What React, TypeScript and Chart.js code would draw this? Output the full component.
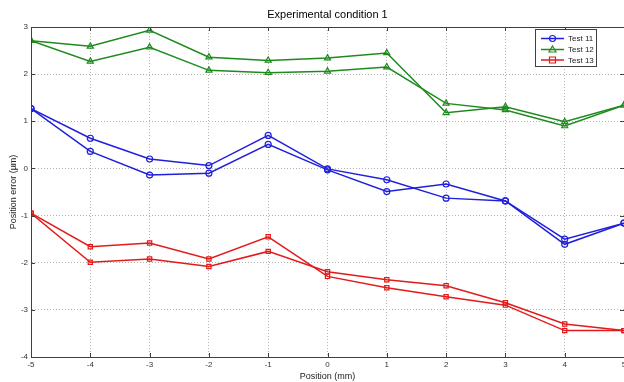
import React, { useEffect, useRef } from "react";
import { Chart, registerables } from "chart.js";

Chart.register(...registerables);

const chartTitle = "Experimental condition 1";
const positions = [-5, -4, -3, -2, -1, 0, 1, 2, 3, 4, 5];
const xTickValues = [-5, -4, -3, -2, -1, 0, 1, 2, 3, 4, 5];
const yTickValues = [-4, -3, -2, -1, 0, 1, 2, 3];

const test11Forward = [1.27, 0.64, 0.2, 0.06, 0.7, -0.01, -0.24, -0.63, -0.69, -1.5, -1.16];
const test11Backward = [1.27, 0.36, -0.14, -0.1, 0.51, -0.03, -0.49, -0.33, -0.69, -1.61, -1.16];
const test12Forward = [2.71, 2.59, 2.93, 2.36, 2.29, 2.34, 2.45, 1.18, 1.31, 0.99, 1.34];
const test12Backward = [2.71, 2.27, 2.57, 2.08, 2.03, 2.06, 2.15, 1.38, 1.24, 0.9, 1.34];
const test13Forward = [-0.95, -1.66, -1.58, -1.92, -1.45, -2.29, -2.53, -2.72, -2.9, -3.44, -3.44];
const test13Backward = [-0.95, -1.99, -1.92, -2.08, -1.76, -2.19, -2.36, -2.49, -2.85, -3.3, -3.44];

const seriesNames = ["Test 11", "Test 12", "Test 13"];
const BLUE = "#1f1fdc";
const GREEN = "#1e8a1e";
const RED = "#e41a1a";
const FONT = "'Liberation Sans', Arial, Helvetica, sans-serif";

function makeDataset(label: string, values: number[], color: string, style: string, radius: number) {
  return {
    label,
    data: positions.map((x, i) => ({ x, y: values[i] })),
    borderColor: color,
    borderWidth: 1.5,
    pointStyle: style,
    pointRadius: radius,
    pointBorderWidth: 1.2,
    pointBorderColor: color,
    pointBackgroundColor: "rgba(0,0,0,0)",
    tension: 0,
    fill: false,
  };
}

function drawMarker(ctx: CanvasRenderingContext2D, style: string, x: number, y: number, color: string) {
  ctx.save();
  ctx.strokeStyle = color;
  ctx.lineWidth = 1.2;
  ctx.beginPath();
  if (style === "circle") {
    ctx.arc(x, y, 3, 0, Math.PI * 2);
  } else if (style === "triangle") {
    ctx.moveTo(x, y - 3.5);
    ctx.lineTo(x + 3.5, y + 2.5);
    ctx.lineTo(x - 3.5, y + 2.5);
    ctx.closePath();
  } else {
    ctx.rect(x - 3, y - 3, 6, 6);
  }
  ctx.stroke();
  ctx.restore();
}

const boxPlugin = {
  id: "boxAndLegend",
  afterDatasetsDraw(chart: any) {
    const ctx: CanvasRenderingContext2D = chart.ctx;
    const { left, right, top, bottom } = chart.chartArea;
    const xs = chart.scales.x;
    const ys = chart.scales.y;
    ctx.save();
    // title centred over the plot area
    ctx.fillStyle = "#000";
    ctx.font = `11px ${FONT}`;
    ctx.textAlign = "center";
    ctx.textBaseline = "middle";
    ctx.fillText(chartTitle, (left + right) / 2, 14.5);

    ctx.strokeStyle = "#404040";
    ctx.lineWidth = 1;
    ctx.beginPath();
    ctx.rect(left + 0.5, top + 0.5, right - left, bottom - top);
    ctx.stroke();
    // inward ticks
    ctx.beginPath();
    xTickValues.forEach((v) => {
      const px = Math.round(xs.getPixelForValue(v)) + 0.5;
      ctx.moveTo(px, bottom);
      ctx.lineTo(px, bottom - 4);
      ctx.moveTo(px, top);
      ctx.lineTo(px, top + 4);
    });
    yTickValues.forEach((v) => {
      const py = Math.round(ys.getPixelForValue(v)) + 0.5;
      ctx.moveTo(left, py);
      ctx.lineTo(left + 4, py);
      ctx.moveTo(right, py);
      ctx.lineTo(right - 4, py);
    });
    ctx.stroke();

    // legend
    const bx = 535.5, by = 29.5, bw = 61, bh = 37;
    ctx.fillStyle = "#ffffff";
    ctx.fillRect(bx, by, bw, bh);
    ctx.strokeStyle = "#404040";
    ctx.strokeRect(bx, by, bw, bh);
    const colors = [BLUE, GREEN, RED];
    const styles = ["circle", "triangle", "rect"];
    const rows = [38.5, 49.5, 60];
    ctx.font = `8px ${FONT}`;
    ctx.textBaseline = "middle";
    ctx.textAlign = "left";
    seriesNames.forEach((name, i) => {
      const y = rows[i];
      ctx.strokeStyle = colors[i];
      ctx.lineWidth = 1.5;
      ctx.beginPath();
      ctx.moveTo(541, y);
      ctx.lineTo(564, y);
      ctx.stroke();
      drawMarker(ctx, styles[i], 552.5, y, colors[i]);
      ctx.fillStyle = "#222";
      ctx.fillText(name, 568, y + 0.5);
    });
    ctx.restore();
  },
};

export default function App() {
  const ref = useRef<HTMLCanvasElement | null>(null);
  useEffect(() => {
    document.documentElement.style.overflow = "hidden";
    document.body.style.overflow = "hidden";
    document.body.style.margin = "0";
    const canvas = ref.current;
    if (!canvas) return;
    const chart = new Chart(canvas, {
      type: "line",
      data: {
        datasets: [
          makeDataset("Test 11", test11Forward, BLUE, "circle", 3),
          makeDataset("Test 11 (return)", test11Backward, BLUE, "circle", 3),
          makeDataset("Test 12", test12Forward, GREEN, "triangle", 3.5),
          makeDataset("Test 12 (return)", test12Backward, GREEN, "triangle", 3.5),
          makeDataset("Test 13", test13Forward, RED, "rect", 3),
          makeDataset("Test 13 (return)", test13Backward, RED, "rect", 3),
        ] as any,
      },
      options: {
        responsive: false,
        animation: false,
        devicePixelRatio: 1,
        layout: { padding: { left: 0, right: 16, top: 27, bottom: 0 } },
        plugins: {
          legend: { display: false },
          tooltip: { enabled: false },
          title: { display: false },
        },
        scales: {
          x: {
            type: "linear",
            min: -5,
            max: 5,
            afterBuildTicks: (scale: any) => {
              scale.ticks = xTickValues.map((v) => ({ value: v }));
            },
            afterFit: (scale: any) => {
              scale.height = 25;
            },
            ticks: {
              color: "#333",
              font: { family: FONT, size: 8 },
              padding: 3,
              maxRotation: 0,
              autoSkip: false,
              callback: (v: any) => String(v),
            },
            grid: { color: "#b4b4b4", lineWidth: 1, drawTicks: false },
            border: { display: true, color: "#404040", width: 1, dash: [1, 2] },
            title: {
              display: true,
              text: "Position (mm)",
              color: "#222",
              font: { family: FONT, size: 9 },
              padding: { top: 0, bottom: 0 },
            },
          },
          y: {
            type: "linear",
            min: -4,
            max: 3,
            afterBuildTicks: (scale: any) => {
              scale.ticks = yTickValues.map((v) => ({ value: v }));
            },
            afterFit: (scale: any) => {
              scale.width = 31;
            },
            ticks: {
              color: "#333",
              font: { family: FONT, size: 8 },
              padding: 3,
              autoSkip: false,
              callback: (v: any) => String(v),
            },
            grid: { color: "#b4b4b4", lineWidth: 1, drawTicks: false },
            border: { display: true, color: "#404040", width: 1, dash: [1, 2] },
            title: {
              display: true,
              text: "Position error (µm)",
              color: "#222",
              font: { family: FONT, size: 9 },
              padding: { top: 8.5, bottom: 0 },
            },
          },
        },
      } as any,
      plugins: [boxPlugin],
    });
    return () => chart.destroy();
  }, []);
  return (
    <div style={{ position: "fixed", left: 0, top: 0, width: 640, height: 382 }}>
      <canvas ref={ref} width={640} height={382} style={{ display: "block", width: 640, height: 382 }} />
    </div>
  );
}
